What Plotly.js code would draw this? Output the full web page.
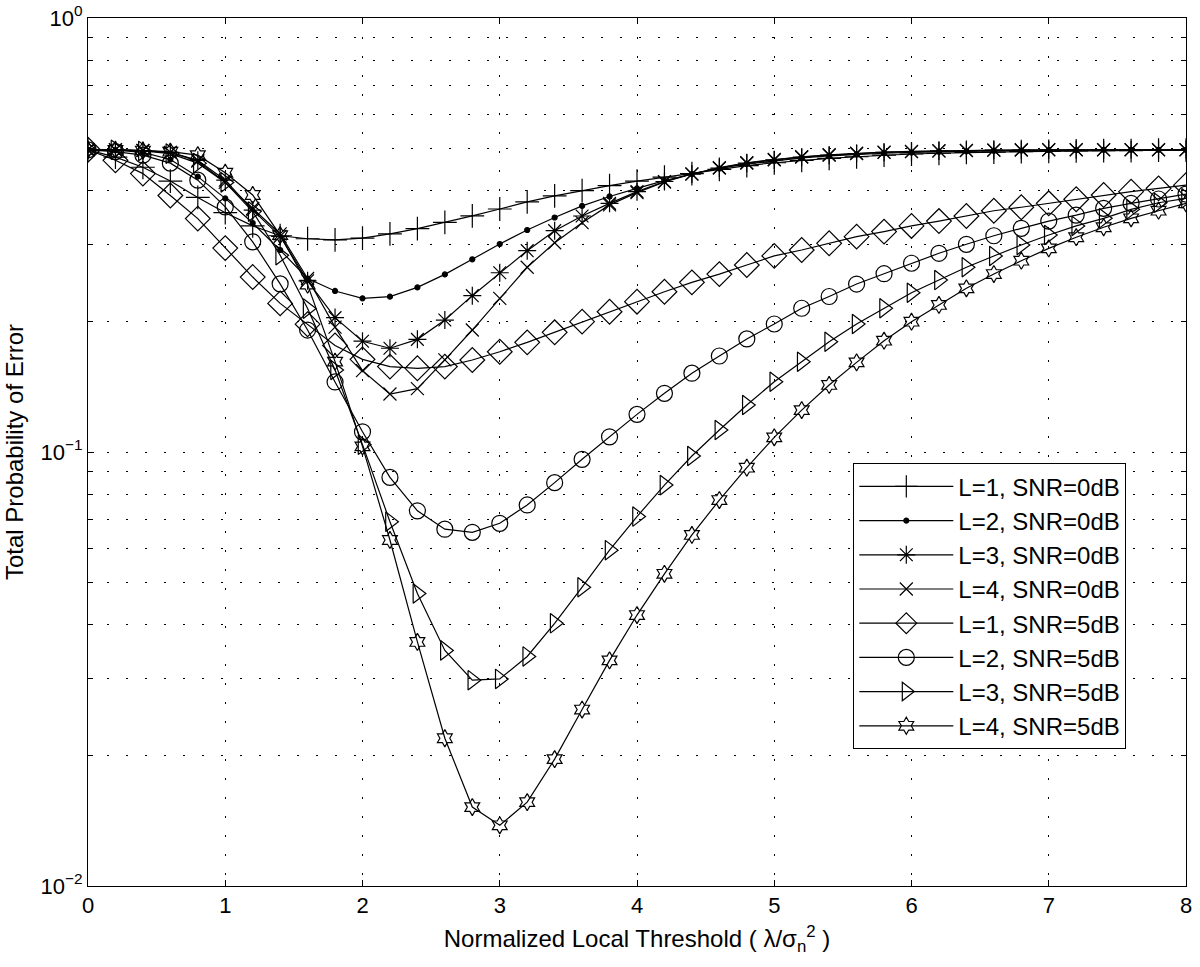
<!DOCTYPE html>
<html>
<head>
<meta charset="utf-8">
<script src="https://cdn.plot.ly/plotly-3.0.1.min.js"></script>
<style>html,body{margin:0;padding:0;background:#fff;}#chart{width:1200px;height:967px;}</style>
</head>
<body>
<div id="chart"></div>
<script>
// Normalized local threshold values (x)
const threshold = [0,0.2,0.4,0.6,0.8,1.0,1.2,1.4,1.6,1.8,2.0,2.2,2.4,2.6,2.8,3.0,3.2,3.4,3.6,3.8,4.0,
  4.2,4.4,4.6,4.8,5.0,5.2,5.4,5.6,5.8,6.0,6.2,6.4,6.6,6.8,7.0,7.2,7.4,7.6,7.8,8.0];

const L1_0dB = [0.497,0.478,0.453,0.421,0.386,0.356,0.332,0.315,0.310,0.308,0.311,0.318,0.327,0.338,0.350,0.363,0.377,0.389,0.400,0.411,0.421,
  0.430,0.438,0.448,0.457,0.464,0.470,0.475,0.479,0.483,0.486,0.488,0.490,0.491,0.492,0.493,0.494,0.495,0.495,0.496,0.496];
const L2_0dB = [0.497,0.496,0.490,0.472,0.431,0.384,0.337,0.292,0.251,0.235,0.226,0.228,0.2395,0.2566,0.278,0.3015,0.3247,0.347,0.369,0.388,0.405,
  0.422,0.437,0.450,0.461,0.469,0.476,0.481,0.485,0.488,0.490,0.492,0.493,0.494,0.495,0.496,0.496,0.497,0.497,0.497,0.497];
const L3_0dB = [0.497,0.497,0.495,0.490,0.470,0.423,0.361,0.314,0.248,0.204,0.180,0.1734,0.1818,0.2014,0.2292,0.2588,0.291,0.3236,0.3498,0.374,0.398,
  0.420,0.437,0.451,0.463,0.471,0.478,0.483,0.487,0.490,0.492,0.494,0.495,0.496,0.496,0.497,0.497,0.497,0.497,0.497,0.497];
const L4_0dB = [0.497,0.497,0.495,0.490,0.468,0.418,0.364,0.318,0.251,0.194,0.154,0.136,0.140,0.163,0.191,0.226,0.2665,0.3035,0.3376,0.371,0.396,
  0.419,0.437,0.452,0.464,0.472,0.479,0.484,0.488,0.491,0.493,0.494,0.495,0.496,0.497,0.497,0.497,0.497,0.497,0.497,0.497];
const L1_5dB = [0.497,0.470,0.438,0.390,0.345,0.295,0.253,0.220,0.197,0.176,0.1635,0.1573,0.1559,0.1573,0.1629,0.1702,0.1789,0.1887,0.1997,0.2105,0.222,
  0.234,0.246,0.257,0.2697,0.283,0.292,0.3026,0.3135,0.322,0.3318,0.3405,0.3498,0.3597,0.3664,0.3741,0.3822,0.391,0.398,0.405,0.412];
const L2_5dB = [0.497,0.492,0.483,0.463,0.423,0.367,0.305,0.244,0.191,0.145,0.1113,0.0874,0.0732,0.0664,0.0653,0.0685,0.0755,0.085,0.0962,0.1084,0.1221,
  0.1365,0.1519,0.1664,0.1822,0.1972,0.2144,0.2282,0.2438,0.2575,0.2722,0.287,0.301,0.315,0.3276,0.3405,0.3515,0.3643,0.3741,0.3828,0.393];
const L3_5dB = [0.497,0.497,0.494,0.487,0.463,0.418,0.358,0.284,0.214,0.1545,0.104,0.0691,0.0472,0.0349,0.0298,0.0300,0.0338,0.0403,0.0488,0.0594,0.071,
  0.0839,0.0979,0.1124,0.1283,0.1452,0.1614,0.1795,0.1972,0.2144,0.2328,0.249,0.2665,0.2829,0.2999,0.3162,0.3318,0.3455,0.3624,0.3753,0.3842];
const L4_5dB = [0.497,0.497,0.495,0.492,0.483,0.440,0.391,0.316,0.243,0.1615,0.103,0.0627,0.0365,0.0219,0.0152,0.0138,0.0156,0.0196,0.0255,0.0331,0.0421,
  0.0524,0.0644,0.0775,0.092,0.1081,0.1249,0.1427,0.1609,0.1805,0.1996,0.2182,0.2383,0.2571,0.2759,0.2946,0.3125,0.3295,0.3455,0.3597,0.374];

const seriesNames = ['L=1, SNR=0dB','L=2, SNR=0dB','L=3, SNR=0dB','L=4, SNR=0dB',
  'L=1, SNR=5dB','L=2, SNR=5dB','L=3, SNR=5dB','L=4, SNR=5dB'];
const seriesValues = [L1_0dB, L2_0dB, L3_0dB, L4_0dB, L1_5dB, L2_5dB, L3_5dB, L4_5dB];

// y ticks: labelled decades, plus unlabelled minor positions
const yTickVals = [0.01, 0.1, 1];
const yTickText = ['10<sup>−2</sup>','10<sup>−1</sup>','10<sup>0</sup>'];
const yMinorVals = [0.02,0.03,0.04,0.05,0.06,0.07,0.08,0.09,0.2,0.3,0.4,0.5,0.6,0.7,0.8,0.9];
const xTickVals = [0,1,2,3,4,5,6,7,8];

const markerStyles = [
  {symbol:'cross-thin-open', size:17},
  {symbol:'circle', size:5},
  {symbol:'asterisk-open', size:15},
  {symbol:'x-thin-open', size:13},
  {symbol:'diamond-open', size:19},
  {symbol:'circle-open', size:16},
  {symbol:'triangle-right-open', size:17},
  {symbol:'hexagram-open', size:13}
];

const traces = seriesValues.map((vals, i) => ({
  x: threshold, y: vals, name: seriesNames[i], type: 'scatter', mode: 'lines+markers',
  line: {color: '#000', width: 1.2},
  marker: {symbol: markerStyles[i].symbol, size: markerStyles[i].size, color: '#000',
           line: {color: '#000', width: 1.2}}
}));

const FONT = 'Liberation Sans, Arial, Helvetica, sans-serif';
const GRIDDASH = '2px,17px';
const layout = {
  width: 1200, height: 967,
  margin: {l: 88, r: 14, t: 18, b: 81},
  paper_bgcolor: '#fff', plot_bgcolor: '#fff',
  font: {family: FONT, size: 22, color: '#000'},
  showlegend: true,
  xaxis: {
    range: [0, 8], tickvals: xTickVals, ticks: 'inside', ticklen: 6, tickcolor: '#000',
    showline: true, linecolor: '#000', linewidth: 1, mirror: 'ticks',
    showgrid: true, gridcolor: '#000', gridwidth: 1, griddash: GRIDDASH, zeroline: false,
    tickfont: {size: 22, family: FONT},
    title: {text: 'Normalized Local Threshold ( λ/σ<sub>n</sub><sup>2</sup> )', font: {size: 24, family: FONT}, standoff: 12}
  },
  yaxis: {
    type: 'log', range: [-2, 0], tickmode: 'array', tickvals: yTickVals, ticktext: yTickText,
    ticks: 'inside', ticklen: 6, tickcolor: '#000',
    showline: true, linecolor: '#000', linewidth: 1, mirror: 'ticks',
    showgrid: true, gridcolor: '#000', gridwidth: 1, griddash: GRIDDASH, zeroline: false,
    minor: {tickmode: 'array', tickvals: yMinorVals, ticks: 'inside', ticklen: 5, tickcolor: '#000',
            showgrid: true, gridcolor: '#000', gridwidth: 1, griddash: GRIDDASH},
    tickfont: {size: 22, family: FONT},
    title: {text: 'Total Probability of Error', font: {size: 24, family: FONT}, standoff: 10}
  },
  legend: {
    x: 0.697, y: 0.487, xanchor: 'left', yanchor: 'top',
    bgcolor: '#fff', bordercolor: '#000', borderwidth: 1,
    font: {size: 24, family: FONT}, itemwidth: 94, tracegroupgap: 0
  }
};

Plotly.newPlot('chart', traces, layout, {displayModeBar: false, staticPlot: true});
</script>
</body>
</html>
